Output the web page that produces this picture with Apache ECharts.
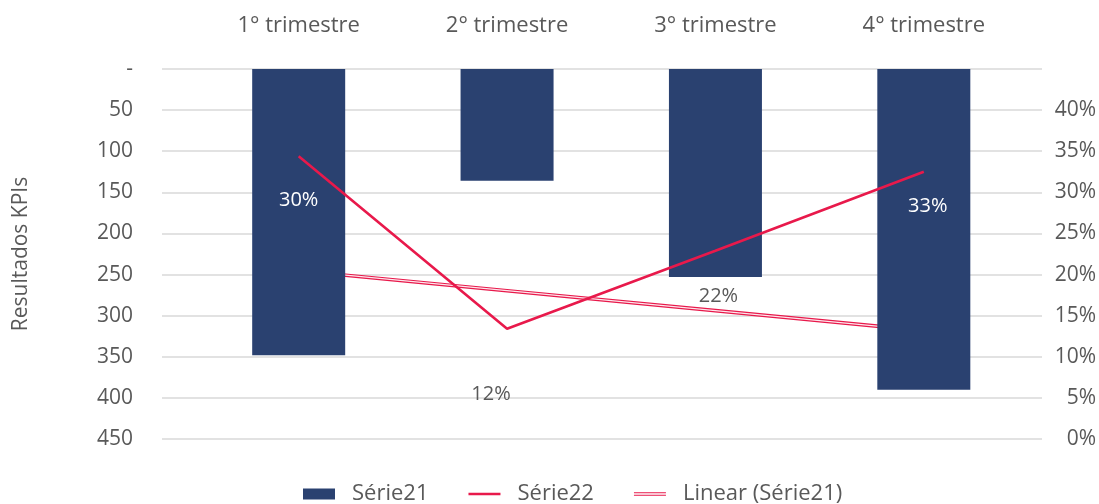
<!DOCTYPE html>
<html>
<head>
<meta charset="utf-8">
<script src="https://cdn.jsdelivr.net/npm/echarts@6/dist/echarts.min.js"></script>
<style>
  html, body { margin: 0; padding: 0; background: #fff; }
  #chart { width: 1099px; height: 504px; }
</style>
</head>
<body>
<div id="chart"></div>
<script>
// dados
const categories = ['1° trimestre', '2° trimestre', '3° trimestre', '4° trimestre']
const serie21 = [348, 136, 253, 390]
const serie22 = [0.344, 0.134, 0.229, 0.325]
const pctLabels = ['30%', '12%', '22%', '33%']
const leftTicks = [0, 50, 100, 150, 200, 250, 300, 350, 400, 450]

// linha de tendência linear (mínimos quadrados) calculada a partir da Série21
function linearTrend(vals) {
  const n = vals.length
  const mx = (n + 1) / 2
  const my = vals.reduce((a, b) => a + b, 0) / n
  let num = 0, den = 0
  vals.forEach((v, i) => {
    num += (i + 1 - mx) * (v - my)
    den += (i + 1 - mx) * (i + 1 - mx)
  })
  const k = num / den
  return vals.map((v, i) => my + k * (i + 1 - mx))
}
const trend = linearTrend(serie21)

const navy = '#2a4170'
const red = '#e8194b'
const gray = '#595959'
const font = 'Open Sans'

// posição dos rótulos (estilo, não dados)
const labelStyle = [
  { color: '#fff', offset: [0, -12] },
  { color: gray, offset: [-16, 269] },
  { color: gray, offset: [3, 123] },
  { color: '#fff', offset: [4, -23] }
]

const myChart = echarts.init(document.getElementById('chart'))
const option = {
  backgroundColor: '#fff',
  animation: false,
  textStyle: { fontFamily: font },
  grid: [
    { left: 162, right: 57, top: 69, bottom: 65 },
    { left: 194.5, right: 71, top: 69, bottom: 65 }
  ],
  xAxis: [
    { gridIndex: 0, type: 'value', show: false, min: 0, max: 1 },
    {
      gridIndex: 1,
      type: 'category',
      position: 'top',
      data: categories,
      axisLine: { show: false },
      axisTick: { show: false },
      axisLabel: { color: gray, fontSize: 22, margin: 32, fontFamily: font }
    }
  ],
  yAxis: [
    {
      gridIndex: 0,
      type: 'value',
      inverse: true,
      min: leftTicks[0],
      max: leftTicks[leftTicks.length - 1],
      interval: 50,
      position: 'left',
      name: 'Resultados KPIs',
      nameLocation: 'middle',
      nameRotate: 90,
      nameGap: 130,
      nameTextStyle: { color: gray, fontSize: 21, fontFamily: font },
      axisLine: { show: false },
      axisTick: { show: false },
      axisLabel: {
        color: gray,
        fontSize: 21,
        margin: 29,
        fontFamily: font,
        formatter: v => (v === 0 ? '-' : String(v))
      },
      splitLine: { lineStyle: { color: '#d9d9d9', width: 1.5 } }
    },
    {
      gridIndex: 0,
      type: 'value',
      min: 0,
      max: 0.45,
      interval: 0.05,
      position: 'right',
      axisLine: { show: false },
      axisTick: { show: false },
      splitLine: { show: false },
      axisLabel: {
        color: gray,
        fontSize: 21,
        margin: 54,
        align: 'right',
        fontFamily: font,
        formatter: v => {
          const p = Math.round(v * 100)
          return p >= 45 ? '' : p + '%'
        }
      }
    },
    { gridIndex: 1, type: 'value', inverse: true, min: 0, max: 450, show: false, splitLine: { show: false } },
    { gridIndex: 1, type: 'value', min: 0, max: 0.45, show: false, splitLine: { show: false } }
  ],
  legend: {
    left: 298,
    top: 478,
    itemWidth: 32,
    itemHeight: 11,
    itemGap: 40,
    textStyle: { color: gray, fontSize: 22, fontFamily: font, padding: [0, 0, 0, 12] },
    data: [
      { name: 'Série21', icon: 'rect' },
      { name: 'Série22', icon: 'path://M0,0H30V2.4H0Z' },
      { name: 'Linear (Série21)', icon: 'path://M0,0H30V1H0ZM0,2.2H30V3.2H0Z' }
    ]
  },
  series: [
    {
      name: 'Linear (Série21)',
      type: 'line',
      xAxisIndex: 1,
      yAxisIndex: 2,
      data: trend,
      symbol: 'none',
      silent: true,
      z: 1,
      itemStyle: { color: red },
      lineStyle: { color: red, width: 3.6 }
    },
    {
      name: 'trend-inner',
      type: 'line',
      xAxisIndex: 1,
      yAxisIndex: 2,
      data: trend,
      symbol: 'none',
      silent: true,
      z: 1,
      lineStyle: { color: '#fde6ec', width: 1.3 }
    },
    {
      name: 'Série21',
      type: 'bar',
      xAxisIndex: 1,
      yAxisIndex: 2,
      barWidth: 93,
      z: 2,
      itemStyle: { color: navy },
      data: serie21.map((v, i) => ({
        value: v,
        label: {
          show: true,
          position: 'inside',
          offset: labelStyle[i].offset,
          color: labelStyle[i].color,
          fontSize: 20,
          fontFamily: font,
          formatter: () => pctLabels[i]
        }
      }))
    },
    {
      name: 'Série22',
      type: 'line',
      xAxisIndex: 1,
      yAxisIndex: 3,
      data: serie22,
      symbol: 'none',
      z: 3,
      itemStyle: { color: red },
      lineStyle: { color: red, width: 2.6 }
    }
  ]
}
myChart.setOption(option)
window.addEventListener('resize', function () {
  myChart.resize()
})
</script>
</body>
</html>
